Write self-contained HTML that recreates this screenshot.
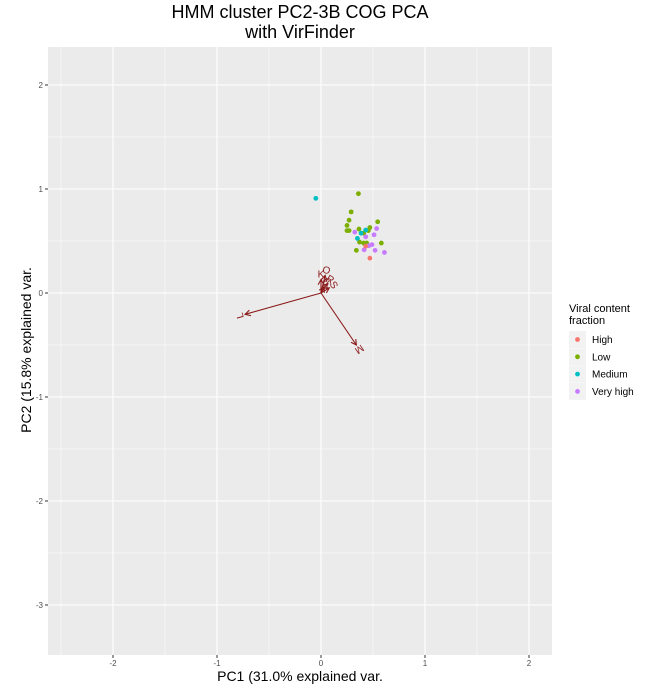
<!DOCTYPE html>
<html><head><meta charset="utf-8"><style>
body{margin:0;background:#fff;}
svg text{font-family:"Liberation Sans",sans-serif;}
</style></head><body>
<svg id="chart" width="660" height="689" xmlns="http://www.w3.org/2000/svg">
<text x="300" y="18" font-size="18" text-anchor="middle">HMM cluster PC2-3B COG PCA</text>
<text x="300" y="38" font-size="18" text-anchor="middle">with VirFinder</text>
<rect x="48" y="47" width="504" height="608" fill="#ebebeb"/>
<g id="grid"></g><g id="axes"></g><g id="arrows"></g><g id="pts"></g>
<text x="300" y="681" font-size="14" text-anchor="middle">PC1 (31.0% explained var.</text>
<text x="31" y="350" font-size="14" text-anchor="middle" transform="rotate(-90 31 350)">PC2 (15.8% explained var.</text>
<g>
<text x="569" y="312" font-size="11">Viral content</text>
<text x="569" y="324" font-size="11">fraction</text>
<g id="legend"></g>
</g>
</svg>
<script>
const NS="http://www.w3.org/2000/svg";
const xTicks=[-2,-1,0,1,2];
const yTicks=[-3,-2,-1,0,1,2];
const groups=["High","Low","Medium","Very high"];
const colors={"High":"#F8766D","Low":"#7CAE00","Medium":"#00BFC4","Very high":"#C77CFF"};
const pc1=[-0.05,0.36,0.29,0.27,0.25,0.25,0.27,0.545,0.365,0.47,0.455,0.41,0.37,0.41,0.44,0.58,0.34,0.43,0.385,0.35,0.325,0.43,0.51,0.535,0.49,0.46,0.415,0.52,0.61,0.43,0.47];
const pc2=[0.91,0.955,0.78,0.70,0.65,0.60,0.60,0.685,0.615,0.63,0.60,0.575,0.49,0.48,0.48,0.48,0.41,0.605,0.575,0.525,0.585,0.54,0.56,0.62,0.465,0.455,0.415,0.41,0.39,0.45,0.335];
const grp=["Medium","Low","Low","Low","Low","Low","Low","Low","Low","Low","Low","Low","Low","Low","Low","Low","Low","Medium","Medium","Medium","Very high","Very high","Very high","Very high","Very high","Very high","Very high","Very high","Very high","High","High"];
const arrowNames=["L","M","O","K","R","B","S"];
const arrowX=[-0.73,0.34,0.04,0.0,0.06,0.03,0.08];
const arrowY=[-0.205,-0.50,0.17,0.13,0.09,0.06,0.05];
const X=v=>321+v*104, Y=v=>293-v*104;
function el(t,a,p){const e=document.createElementNS(NS,t);for(const k in a)e.setAttribute(k,a[k]);p.appendChild(e);return e;}
const grid=document.getElementById('grid'),axes=document.getElementById('axes');
for(let v=-2.5;v<=2.5;v+=0.5){const g=el('line',{x1:X(v),x2:X(v),y1:47,y2:655,stroke:'#fff','stroke-width':Number.isInteger(v)?1.1:0.5},grid);
}
for(let v=-3.5;v<=2.5;v+=0.5){const y=Y(v);if(y<47||y>655)continue;const g=el('line',{x1:48,x2:552,y1:y,y2:y,stroke:'#fff','stroke-width':Number.isInteger(v)?1.1:0.5},grid);
}
xTicks.forEach(v=>{el('line',{x1:X(v),x2:X(v),y1:655,y2:658,stroke:'#333'},axes);
const t=el('text',{x:X(v),y:666,'font-size':8,'text-anchor':'middle',fill:'#4d4d4d'},axes);t.textContent=v;
});
yTicks.forEach(v=>{el('line',{x1:45,x2:48,y1:Y(v),y2:Y(v),stroke:'#333'},axes);
const t=el('text',{x:43,y:Y(v)+3,'font-size':8,'text-anchor':'end',fill:'#4d4d4d'},axes);t.textContent=v;
});
const ar=document.getElementById('arrows');
arrowNames.forEach((n,i)=>{const x2=X(arrowX[i]),y2=Y(arrowY[i]),x1=X(0),y1=Y(0);
const l=el('line',{x1,y1,x2,y2,stroke:'#8b1a1a','stroke-width':1.1},ar);

const a=Math.atan2(y2-y1,x2-x1),h=6;
el('polyline',{points:`${x2-h*Math.cos(a-0.5)},${y2-h*Math.sin(a-0.5)} ${x2},${y2} ${x2-h*Math.cos(a+0.5)},${y2-h*Math.sin(a+0.5)}`,fill:'none',stroke:'#8b1a1a','stroke-width':1.1},ar);
const t=el('text',{x:x2+Math.cos(a)*6,y:y2+Math.sin(a)*6+4,'font-size':10,'text-anchor':'middle',fill:'#8b1a1a',transform:`rotate(${a*180/Math.PI+90} ${x2+Math.cos(a)*6} ${y2+Math.sin(a)*6})`},ar);t.textContent=n;
});
const pts=document.getElementById('pts');
pc1.forEach((v,i)=>{const c=el('circle',{cx:X(v),cy:Y(pc2[i]),r:2.4,fill:colors[grp[i]]},pts);
});
const lg=document.getElementById('legend');
groups.forEach((g,i)=>{const y=331+i*17.3;
el('rect',{x:569,y:y,width:17,height:17,fill:'#f2f2f2'},lg);
const c=el('circle',{cx:577.5,cy:y+8.5,r:2.4,fill:colors[g]},lg);

const t=el('text',{x:592,y:y+12,'font-size':10},lg);t.textContent=g;
});
</script>
</body></html>
